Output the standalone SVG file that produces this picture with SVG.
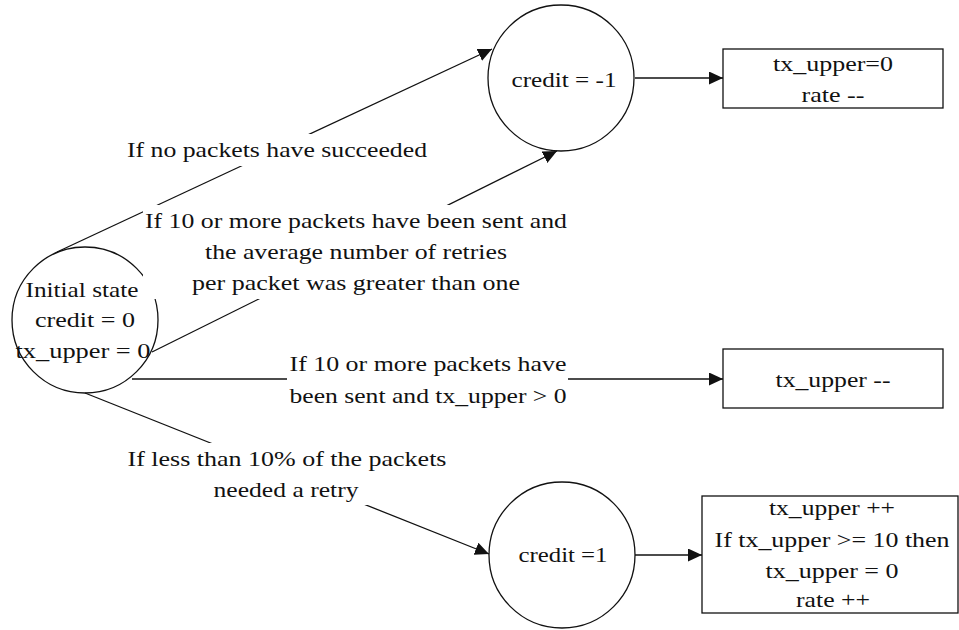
<svg xmlns="http://www.w3.org/2000/svg" width="959" height="630" viewBox="0 0 959 630">
<style>
text{font-family:"Liberation Serif","Times New Roman",serif;font-size:21px;fill:#111;text-anchor:middle}
.n{fill:#fff;stroke:#111;stroke-width:1.3}
.e{stroke:#111;stroke-width:1.3;fill:none;marker-end:url(#ah)}
.bg{fill:#fff;stroke:none}
</style>
<defs>
<marker id="ah" markerUnits="userSpaceOnUse" markerWidth="16" markerHeight="14" refX="14" refY="6.5" orient="auto">
<path d="M0,0 L14,6.5 L0,13 z" fill="#111"/>
</marker>
</defs>
<rect width="959" height="630" fill="#fff"/>
<g id="initial">
<circle class="n" cx="85" cy="320" r="73"/>
<text x="82" y="297" textLength="113" lengthAdjust="spacingAndGlyphs">Initial state</text>
<text x="85" y="327" textLength="100" lengthAdjust="spacingAndGlyphs">credit = 0</text>
<text x="83" y="358" textLength="135" lengthAdjust="spacingAndGlyphs">tx_upper = 0</text>
</g>
<g id="creditneg">
<circle class="n" cx="561" cy="78" r="73"/>
<text x="564" y="87" textLength="105" lengthAdjust="spacingAndGlyphs">credit = -1</text>
</g>
<g id="creditpos">
<circle class="n" cx="562" cy="555" r="73"/>
<text x="563" y="562" textLength="89" lengthAdjust="spacingAndGlyphs">credit =1</text>
</g>
<g id="box1">
<rect class="n" x="723" y="49" width="220" height="59"/>
<text x="833" y="71" textLength="120" lengthAdjust="spacingAndGlyphs">tx_upper=0</text>
<text x="833" y="102" textLength="63" lengthAdjust="spacingAndGlyphs">rate --</text>
</g>
<g id="box2">
<rect class="n" x="723" y="349" width="220" height="59"/>
<text x="833" y="387" textLength="115" lengthAdjust="spacingAndGlyphs">tx_upper --</text>
</g>
<g id="box3">
<rect class="n" x="702" y="496" width="256" height="117"/>
<text x="832" y="515" textLength="126" lengthAdjust="spacingAndGlyphs">tx_upper ++</text>
<text x="832" y="547" textLength="235" lengthAdjust="spacingAndGlyphs">If tx_upper &gt;= 10 then</text>
<text x="832" y="578" textLength="133" lengthAdjust="spacingAndGlyphs">tx_upper = 0</text>
<text x="833" y="607" textLength="74" lengthAdjust="spacingAndGlyphs">rate ++</text>
</g>
<g id="connectors">
<line class="e" x1="57" y1="252" x2="492" y2="49"/>
<line class="e" x1="152" y1="352" x2="557" y2="151"/>
<line class="e" x1="132" y1="379" x2="723" y2="379"/>
<line class="e" x1="85" y1="393" x2="489" y2="554"/>
<line class="e" x1="635" y1="78" x2="723" y2="78"/>
<line class="e" x1="635" y1="555" x2="702" y2="555"/>
<rect class="bg" x="125" y="134" width="305" height="32"/>
<text x="277" y="157" textLength="300" lengthAdjust="spacingAndGlyphs">If no packets have succeeded</text>
<rect class="bg" x="143" y="205" width="427" height="94"/>
<text x="356" y="228" textLength="422" lengthAdjust="spacingAndGlyphs">If 10 or more packets have been sent and</text>
<text x="356" y="259" textLength="302" lengthAdjust="spacingAndGlyphs">the average number of retries</text>
<text x="356" y="290" textLength="328" lengthAdjust="spacingAndGlyphs">per packet was greater than one</text>
<rect class="bg" x="287" y="350" width="281" height="60"/>
<text x="428" y="371" textLength="277" lengthAdjust="spacingAndGlyphs">If 10 or more packets have</text>
<text x="428" y="403" textLength="277" lengthAdjust="spacingAndGlyphs">been sent and tx_upper &gt; 0</text>
<rect class="bg" x="126" y="443" width="323" height="62"/>
<text x="287" y="466" textLength="319" lengthAdjust="spacingAndGlyphs">If less than 10% of the packets</text>
<text x="286" y="497" textLength="145" lengthAdjust="spacingAndGlyphs">needed a retry</text>
</g>
</svg>
